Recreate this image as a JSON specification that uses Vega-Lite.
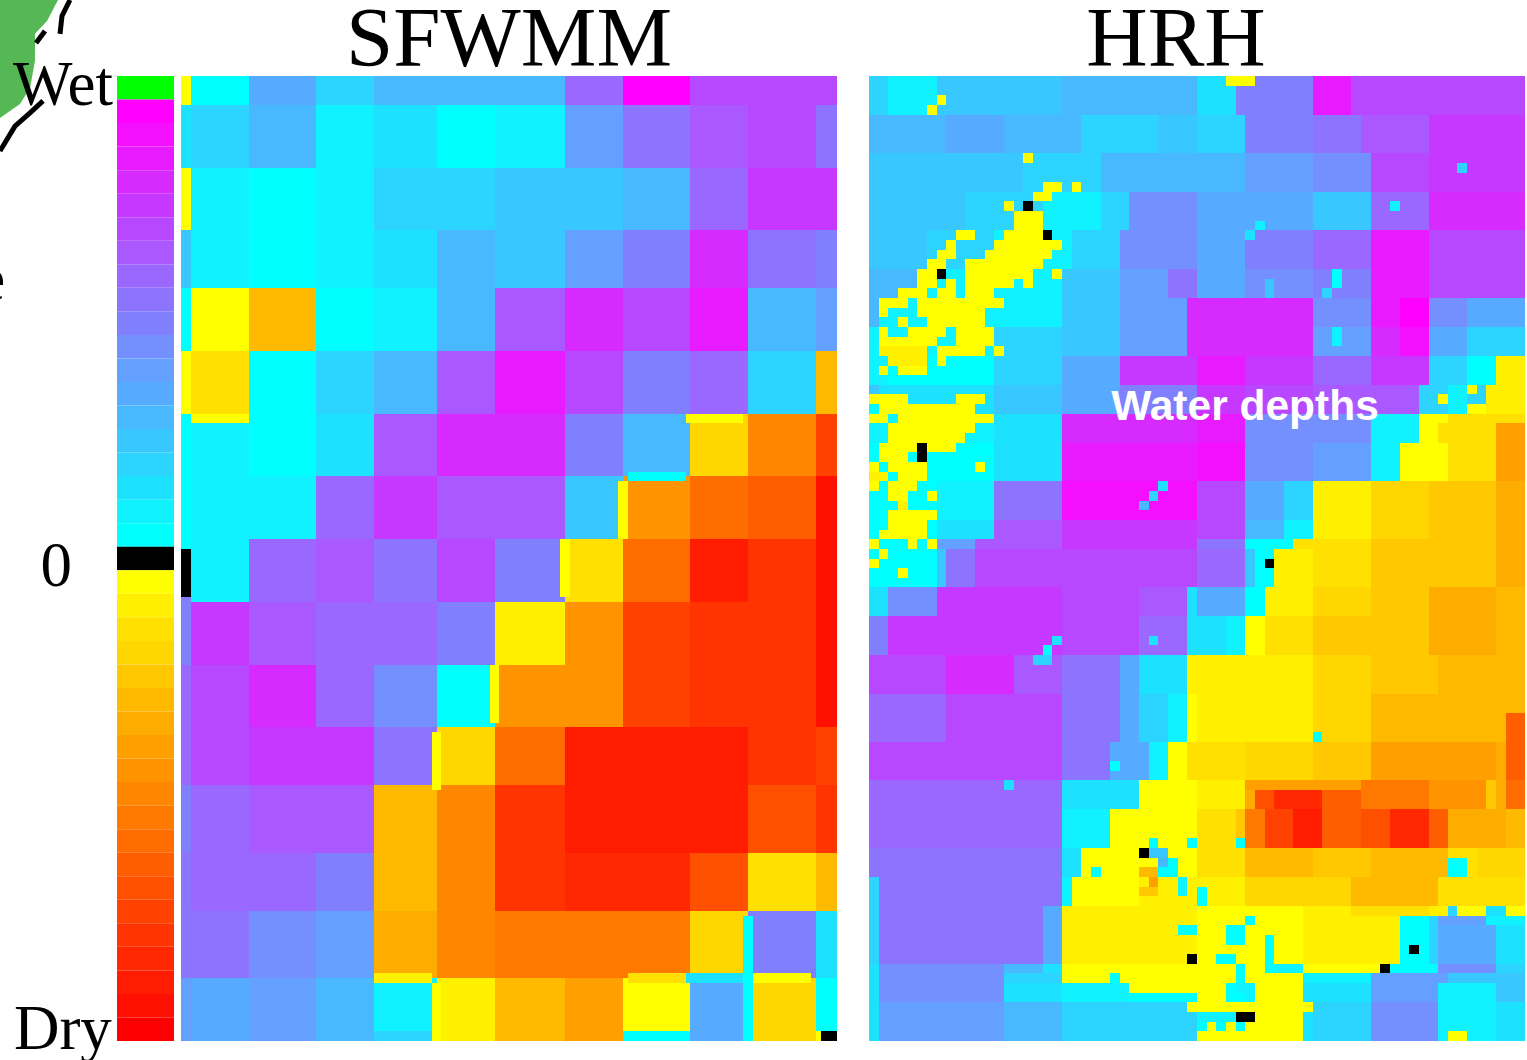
{"$schema":"https://vega.github.io/schema/vega-lite/v6.json","autosize":{"type":"none"},"padding":{"left":117,"top":76,"right":1410,"bottom":984},"background":"white",
"config":{"view":{"stroke":null},"range":{"ordinal":["#FF0000","#FF1000","#FF1C00","#FF2800","#FF3400","#FF4200","#FF5000","#FF5E00","#FF6C00","#FF7800","#FF8600","#FF9400","#FFA000","#FFAC00","#FFBA00","#FFC800","#FFD600","#FFE000","#FFF000","#FFFF00","#000000","#00FFFF","#10F2FF","#1CE2FF","#2CD4FF","#38C8FF","#48B8FF","#56AAFF","#64A0FF","#7490FF","#8080FF","#8C74FF","#9A68FF","#AA58FF","#B848FF","#C638FF","#D62AFF","#E81AFF","#F410FF","#FF00FF","#00FF00"]}},
"spacing":32,
"hconcat":[{"spacing":7,"hconcat":[
{"width":57,"height":965,"layer":[
{"data":{"values":[{"y":-3.23,"x":-2.053,"x2":-1.035},{"y":-2.34,"x":-2.053,"x2":-1.228},{"y":-1.79,"x":-2.053,"x2":-1.439},{"y":-0.64,"x":-2.053,"x2":-1.439},{"y":0.51,"x":-2.053,"x2":-1.526},{"y":1.19,"x":-2.053,"x2":-1.702},{"y":1.79,"x":-2.053,"x2":-2.053}]},"mark":{"type":"area","orient":"horizontal","color":"#55B855"},"encoding":{"y":{"field":"y","type":"quantitative","scale":{"domain":[0,41],"reverse":true,"nice":false,"zero":false},"axis":null},"x":{"field":"x","type":"quantitative","scale":{"domain":[0,1],"nice":false,"zero":false},"axis":null},"x2":{"field":"x2"}}},
{"data":{"values":[{"g":"a","x":-1.298,"y":1.06},{"g":"a","x":-1.526,"y":1.57},{"g":"a","x":-1.79,"y":2.13},{"g":"a","x":-2.053,"y":3.19},{"g":"b","x":-0.825,"y":-3.23},{"g":"b","x":-0.965,"y":-2.55},{"g":"b","x":-1.0,"y":-1.79},{"g":"c","x":-1.263,"y":-1.91},{"g":"c","x":-1.421,"y":-1.4}]},"mark":{"type":"line","color":"#000000","strokeWidth":5},"encoding":{"x":{"field":"x","type":"quantitative"},"y":{"field":"y","type":"quantitative"},"detail":{"field":"g"}}},
{"data":{"values":[{"v":20,"y":0,"y2":1,"a":0,"b":1},{"v":19,"y":1,"y2":2,"a":0,"b":1},{"v":18,"y":2,"y2":3,"a":0,"b":1},{"v":17,"y":3,"y2":4,"a":0,"b":1},{"v":16,"y":4,"y2":5,"a":0,"b":1},{"v":15,"y":5,"y2":6,"a":0,"b":1},{"v":14,"y":6,"y2":7,"a":0,"b":1},{"v":13,"y":7,"y2":8,"a":0,"b":1},{"v":12,"y":8,"y2":9,"a":0,"b":1},{"v":11,"y":9,"y2":10,"a":0,"b":1},{"v":10,"y":10,"y2":11,"a":0,"b":1},{"v":9,"y":11,"y2":12,"a":0,"b":1},{"v":8,"y":12,"y2":13,"a":0,"b":1},{"v":7,"y":13,"y2":14,"a":0,"b":1},{"v":6,"y":14,"y2":15,"a":0,"b":1},{"v":5,"y":15,"y2":16,"a":0,"b":1},{"v":4,"y":16,"y2":17,"a":0,"b":1},{"v":3,"y":17,"y2":18,"a":0,"b":1},{"v":2,"y":18,"y2":19,"a":0,"b":1},{"v":1,"y":19,"y2":20,"a":0,"b":1},{"v":0,"y":20,"y2":21,"a":0,"b":1},{"v":-1,"y":21,"y2":22,"a":0,"b":1},{"v":-2,"y":22,"y2":23,"a":0,"b":1},{"v":-3,"y":23,"y2":24,"a":0,"b":1},{"v":-4,"y":24,"y2":25,"a":0,"b":1},{"v":-5,"y":25,"y2":26,"a":0,"b":1},{"v":-6,"y":26,"y2":27,"a":0,"b":1},{"v":-7,"y":27,"y2":28,"a":0,"b":1},{"v":-8,"y":28,"y2":29,"a":0,"b":1},{"v":-9,"y":29,"y2":30,"a":0,"b":1},{"v":-10,"y":30,"y2":31,"a":0,"b":1},{"v":-11,"y":31,"y2":32,"a":0,"b":1},{"v":-12,"y":32,"y2":33,"a":0,"b":1},{"v":-13,"y":33,"y2":34,"a":0,"b":1},{"v":-14,"y":34,"y2":35,"a":0,"b":1},{"v":-15,"y":35,"y2":36,"a":0,"b":1},{"v":-16,"y":36,"y2":37,"a":0,"b":1},{"v":-17,"y":37,"y2":38,"a":0,"b":1},{"v":-18,"y":38,"y2":39,"a":0,"b":1},{"v":-19,"y":39,"y2":40,"a":0,"b":1},{"v":-20,"y":40,"y2":41,"a":0,"b":1}]},"mark":{"type":"rect"},"encoding":{"x":{"field":"a","type":"quantitative"},"x2":{"field":"b"},"y":{"field":"y","type":"quantitative"},"y2":{"field":"y2"},"color":{"field":"v","type":"ordinal","legend":null,"scale":{"domain":[-20,-19,-18,-17,-16,-15,-14,-13,-12,-11,-10,-9,-8,-7,-6,-5,-4,-3,-2,-1,0,1,2,3,4,5,6,7,8,9,10,11,12,13,14,15,16,17,18,19,20]}}}},
{"data":{"values":[{"t":"Wet","x":-0.07,"y":1.22},{"t":"0","x":-0.79,"y":21.65},{"t":"Dry","x":-0.09,"y":41.35},{"t":"e","x":-1.96,"y":9.52}]},"mark":{"type":"text","align":"right","baseline":"alphabetic","font":"Liberation Serif","fontSize":63,"color":"#000000"},"encoding":{"x":{"field":"x","type":"quantitative"},"y":{"field":"y","type":"quantitative"},"text":{"field":"t"}}}
]},
{"width":656,"height":965,"title":{"text":"SFWMM","font":"Liberation Serif","fontSize":85,"fontWeight":"normal","color":"#000000","offset":-8},
"data":{"values":[
{"x":0,"x2":1,"y":0,"y2":3,"v":-1},{"x":1,"x2":7,"y":0,"y2":3,"v":1},{"x":7,"x2":14,"y":0,"y2":3,"v":7},{"x":14,"x2":20,"y":0,"y2":3,"v":4},{"x":20,"x2":39.8,"y":0,"y2":3,"v":6},{"x":39.8,"x2":45.8,"y":0,"y2":3,"v":12},{"x":45.8,"x2":52.8,"y":0,"y2":3,"v":19},{"x":52.8,"x2":68,"y":0,"y2":3,"v":14},
{"x":0,"x2":1,"y":3,"y2":9.5,"v":3},{"x":1,"x2":7,"y":3,"y2":9.5,"v":4},{"x":7,"x2":14,"y":3,"y2":9.5,"v":6},{"x":14,"x2":20,"y":3,"y2":9.5,"v":2},{"x":20,"x2":26.5,"y":3,"y2":9.5,"v":3},{"x":26.5,"x2":32.5,"y":3,"y2":9.5,"v":1},{"x":32.5,"x2":39.8,"y":3,"y2":9.5,"v":2},{"x":39.8,"x2":45.8,"y":3,"y2":9.5,"v":8},{"x":45.8,"x2":52.8,"y":3,"y2":9.5,"v":11},{"x":52.8,"x2":58.8,"y":3,"y2":9.5,"v":13},{"x":58.8,"x2":65.8,"y":3,"y2":9.5,"v":14},{"x":65.8,"x2":68,"y":3,"y2":9.5,"v":11},
{"x":0,"x2":1,"y":9.5,"y2":16,"v":-1},{"x":1,"x2":7,"y":9.5,"y2":16,"v":2},{"x":7,"x2":14,"y":9.5,"y2":16,"v":1},{"x":14,"x2":20,"y":9.5,"y2":16,"v":2},{"x":20,"x2":32.5,"y":9.5,"y2":16,"v":4},{"x":32.5,"x2":45.8,"y":9.5,"y2":16,"v":5},{"x":45.8,"x2":52.8,"y":9.5,"y2":16,"v":6},{"x":52.8,"x2":58.8,"y":9.5,"y2":16,"v":12},{"x":58.8,"x2":68,"y":9.5,"y2":16,"v":15},
{"x":0,"x2":1,"y":16,"y2":22,"v":5},{"x":1,"x2":7,"y":16,"y2":22,"v":2},{"x":7,"x2":14,"y":16,"y2":22,"v":1},{"x":14,"x2":20,"y":16,"y2":22,"v":2},{"x":20,"x2":26.5,"y":16,"y2":22,"v":3},{"x":26.5,"x2":32.5,"y":16,"y2":22,"v":6},{"x":32.5,"x2":39.8,"y":16,"y2":22,"v":5},{"x":39.8,"x2":45.8,"y":16,"y2":22,"v":8},{"x":45.8,"x2":52.8,"y":16,"y2":22,"v":10},{"x":52.8,"x2":58.8,"y":16,"y2":22,"v":16},{"x":58.8,"x2":65.8,"y":16,"y2":22,"v":11},{"x":65.8,"x2":68,"y":16,"y2":22,"v":10},
{"x":0,"x2":1,"y":22,"y2":28.5,"v":1},{"x":1,"x2":7,"y":22,"y2":28.5,"v":-1},{"x":7,"x2":14,"y":22,"y2":28.5,"v":-6},{"x":14,"x2":20,"y":22,"y2":28.5,"v":1},{"x":20,"x2":26.5,"y":22,"y2":28.5,"v":2},{"x":26.5,"x2":32.5,"y":22,"y2":28.5,"v":6},{"x":32.5,"x2":39.8,"y":22,"y2":28.5,"v":13},{"x":39.8,"x2":45.8,"y":22,"y2":28.5,"v":16},{"x":45.8,"x2":52.8,"y":22,"y2":28.5,"v":14},{"x":52.8,"x2":58.8,"y":22,"y2":28.5,"v":17},{"x":58.8,"x2":65.8,"y":22,"y2":28.5,"v":6},{"x":65.8,"x2":68,"y":22,"y2":28.5,"v":8},
{"x":0,"x2":1,"y":28.5,"y2":35,"v":-1},{"x":1,"x2":7,"y":28.5,"y2":35,"v":-3},{"x":7,"x2":14,"y":28.5,"y2":35,"v":1},{"x":14,"x2":20,"y":28.5,"y2":35,"v":4},{"x":20,"x2":26.5,"y":28.5,"y2":35,"v":6},{"x":26.5,"x2":32.5,"y":28.5,"y2":35,"v":13},{"x":32.5,"x2":39.8,"y":28.5,"y2":35,"v":17},{"x":39.8,"x2":45.8,"y":28.5,"y2":35,"v":14},{"x":45.8,"x2":52.8,"y":28.5,"y2":35,"v":10},{"x":52.8,"x2":58.8,"y":28.5,"y2":35,"v":12},{"x":58.8,"x2":65.8,"y":28.5,"y2":35,"v":4},{"x":65.8,"x2":68,"y":28.5,"y2":35,"v":-6},
{"x":0,"x2":1,"y":35,"y2":41.5,"v":1},{"x":1,"x2":7,"y":35,"y2":41.5,"v":2},{"x":7,"x2":14,"y":35,"y2":41.5,"v":1},{"x":14,"x2":20,"y":35,"y2":41.5,"v":3},{"x":20,"x2":26.5,"y":35,"y2":41.5,"v":13},{"x":26.5,"x2":39.8,"y":35,"y2":41.5,"v":16},{"x":39.8,"x2":45.8,"y":35,"y2":41.5,"v":10},{"x":45.8,"x2":52.8,"y":35,"y2":41.5,"v":6},{"x":52.8,"x2":58.8,"y":35,"y2":41.5,"v":-4},{"x":58.8,"x2":65.8,"y":35,"y2":41.5,"v":-10},{"x":65.8,"x2":68,"y":35,"y2":41.5,"v":-15},
{"x":0,"x2":1,"y":41.5,"y2":49,"v":1},{"x":1,"x2":7,"y":41.5,"y2":48,"v":2},{"x":7,"x2":14,"y":41.5,"y2":48,"v":2},{"x":14,"x2":20,"y":41.5,"y2":48,"v":12},{"x":20,"x2":26.5,"y":41.5,"y2":48,"v":15},{"x":26.5,"x2":39.8,"y":41.5,"y2":48,"v":13},{"x":39.8,"x2":45.8,"y":41.5,"y2":48,"v":5},{"x":45.8,"x2":52.8,"y":41.5,"y2":48,"v":-9},{"x":52.8,"x2":58.8,"y":41.5,"y2":48,"v":-12},{"x":58.8,"x2":65.8,"y":41.5,"y2":48,"v":-13},{"x":65.8,"x2":68,"y":41.5,"y2":48,"v":-19},
{"x":0,"x2":1,"y":49,"y2":54,"v":0},{"x":1,"x2":7,"y":48,"y2":54.5,"v":2},{"x":7,"x2":14,"y":48,"y2":54.5,"v":12},{"x":14,"x2":20,"y":48,"y2":54.5,"v":13},{"x":20,"x2":26.5,"y":48,"y2":54.5,"v":11},{"x":26.5,"x2":32.5,"y":48,"y2":54.5,"v":14},{"x":32.5,"x2":39.8,"y":48,"y2":54.5,"v":10},{"x":39.8,"x2":45.8,"y":48,"y2":54.5,"v":-3},{"x":45.8,"x2":52.8,"y":48,"y2":54.5,"v":-12},{"x":52.8,"x2":58.8,"y":48,"y2":54.5,"v":-18},{"x":58.8,"x2":65.8,"y":48,"y2":54.5,"v":-16},{"x":65.8,"x2":68,"y":48,"y2":54.5,"v":-19},
{"x":0,"x2":1,"y":54,"y2":61,"v":10},{"x":1,"x2":7,"y":54.5,"y2":61,"v":15},{"x":7,"x2":14,"y":54.5,"y2":61,"v":13},{"x":14,"x2":26.5,"y":54.5,"y2":61,"v":12},{"x":26.5,"x2":32.5,"y":54.5,"y2":61,"v":10},{"x":32.5,"x2":39.8,"y":54.5,"y2":61,"v":-2},{"x":39.8,"x2":45.8,"y":54.5,"y2":61,"v":-9},{"x":45.8,"x2":52.8,"y":54.5,"y2":61,"v":-15},{"x":52.8,"x2":65.8,"y":54.5,"y2":61,"v":-16},{"x":65.8,"x2":68,"y":54.5,"y2":61,"v":-19},
{"x":0,"x2":1,"y":61,"y2":67.5,"v":12},{"x":1,"x2":7,"y":61,"y2":67.5,"v":14},{"x":7,"x2":14,"y":61,"y2":67.5,"v":16},{"x":14,"x2":20,"y":61,"y2":67.5,"v":12},{"x":20,"x2":26.5,"y":61,"y2":67.5,"v":9},{"x":26.5,"x2":32.5,"y":61,"y2":67.5,"v":1},{"x":32.5,"x2":45.8,"y":61,"y2":67.5,"v":-9},{"x":45.8,"x2":52.8,"y":61,"y2":67.5,"v":-15},{"x":52.8,"x2":65.8,"y":61,"y2":67.5,"v":-16},{"x":65.8,"x2":68,"y":61,"y2":67.5,"v":-19},
{"x":0,"x2":1,"y":67.5,"y2":73.5,"v":12},{"x":1,"x2":7,"y":67.5,"y2":73.5,"v":14},{"x":7,"x2":20,"y":67.5,"y2":73.5,"v":15},{"x":20,"x2":26.5,"y":67.5,"y2":73.5,"v":11},{"x":26.5,"x2":32.5,"y":67.5,"y2":73.5,"v":-4},{"x":32.5,"x2":39.8,"y":67.5,"y2":73.5,"v":-12},{"x":39.8,"x2":58.8,"y":67.5,"y2":73.5,"v":-18},{"x":58.8,"x2":65.8,"y":67.5,"y2":73.5,"v":-16},{"x":65.8,"x2":68,"y":67.5,"y2":73.5,"v":-15},
{"x":0,"x2":1,"y":73.5,"y2":80.5,"v":10},{"x":1,"x2":7,"y":73.5,"y2":80.5,"v":12},{"x":7,"x2":20,"y":73.5,"y2":80.5,"v":13},{"x":20,"x2":26.5,"y":73.5,"y2":80.5,"v":-6},{"x":26.5,"x2":32.5,"y":73.5,"y2":80.5,"v":-10},{"x":32.5,"x2":39.8,"y":73.5,"y2":80.5,"v":-16},{"x":39.8,"x2":58.8,"y":73.5,"y2":80.5,"v":-18},{"x":58.8,"x2":65.8,"y":73.5,"y2":80.5,"v":-14},{"x":65.8,"x2":68,"y":73.5,"y2":80.5,"v":-16},
{"x":0,"x2":1,"y":80.5,"y2":86.5,"v":11},{"x":1,"x2":14,"y":80.5,"y2":86.5,"v":12},{"x":14,"x2":20,"y":80.5,"y2":86.5,"v":10},{"x":20,"x2":26.5,"y":80.5,"y2":86.5,"v":-6},{"x":26.5,"x2":32.5,"y":80.5,"y2":86.5,"v":-10},{"x":32.5,"x2":39.8,"y":80.5,"y2":86.5,"v":-16},{"x":39.8,"x2":45.8,"y":80.5,"y2":86.5,"v":-17},{"x":45.8,"x2":52.8,"y":80.5,"y2":86.5,"v":-17},{"x":52.8,"x2":58.8,"y":80.5,"y2":86.5,"v":-14},{"x":58.8,"x2":65.8,"y":80.5,"y2":86.5,"v":-3},{"x":65.8,"x2":68,"y":80.5,"y2":86.5,"v":-6},
{"x":0,"x2":7,"y":86.5,"y2":93.5,"v":11},{"x":7,"x2":14,"y":86.5,"y2":93.5,"v":9},{"x":14,"x2":20,"y":86.5,"y2":93.5,"v":8},{"x":20,"x2":26.5,"y":86.5,"y2":93.5,"v":-7},{"x":26.5,"x2":32.5,"y":86.5,"y2":93.5,"v":-10},{"x":32.5,"x2":52.8,"y":86.5,"y2":93.5,"v":-11},{"x":52.8,"x2":58.8,"y":86.5,"y2":93.5,"v":-4},{"x":58.8,"x2":65.8,"y":86.5,"y2":93.5,"v":10},{"x":65.8,"x2":68,"y":86.5,"y2":93.5,"v":3},
{"x":0,"x2":1,"y":93.5,"y2":100,"v":8},{"x":1,"x2":7,"y":93.5,"y2":100,"v":7},{"x":7,"x2":14,"y":93.5,"y2":100,"v":8},{"x":14,"x2":20,"y":93.5,"y2":100,"v":6},{"x":20,"x2":26.5,"y":93.5,"y2":99,"v":2},{"x":26.5,"x2":32.5,"y":93.5,"y2":100,"v":-2},{"x":32.5,"x2":39.8,"y":93.5,"y2":100,"v":-6},{"x":39.8,"x2":45.8,"y":93.5,"y2":100,"v":-8},{"x":45.8,"x2":52.8,"y":93.5,"y2":99,"v":-1},{"x":52.8,"x2":58.8,"y":93.5,"y2":100,"v":7},{"x":58.8,"x2":65.8,"y":93.5,"y2":100,"v":-4},{"x":65.8,"x2":68,"y":93.5,"y2":99,"v":1},
{"x":20,"x2":26.5,"y":99,"y2":100,"v":4},{"x":45.8,"x2":52.8,"y":99,"y2":100,"v":1},{"x":65.8,"x2":67,"y":99,"y2":100,"v":-1},{"x":66.3,"x2":68,"y":99,"y2":100,"v":0},
{"x":52.3,"x2":58.3,"y":35,"y2":36,"v":-1},{"x":46.3,"x2":52.3,"y":41,"y2":42,"v":1},{"x":45.3,"x2":46.3,"y":42,"y2":48,"v":-1},{"x":39.3,"x2":40.3,"y":48,"y2":54,"v":-1},{"x":32,"x2":33,"y":61,"y2":67,"v":-1},{"x":26,"x2":27,"y":68,"y2":74,"v":-1},{"x":26,"x2":27,"y":94,"y2":100,"v":-1},{"x":20,"x2":26,"y":93,"y2":94,"v":-2},{"x":20,"x2":26,"y":94,"y2":99,"v":2},{"x":59.3,"x2":65.3,"y":93,"y2":94,"v":-1},{"x":46.3,"x2":52.3,"y":93,"y2":94,"v":-3},{"x":52.3,"x2":58.3,"y":93,"y2":94,"v":3},{"x":58.3,"x2":59.3,"y":87,"y2":100,"v":1},{"x":1,"x2":7,"y":35,"y2":36,"v":-1}
]},
"mark":{"type":"rect"},"encoding":{"x":{"field":"x","type":"quantitative","scale":{"domain":[0,68],"nice":false,"zero":false,"round":true},"axis":null},"x2":{"field":"x2"},"y":{"field":"y","type":"quantitative","scale":{"domain":[0,100],"reverse":true,"nice":false,"zero":false,"round":true},"axis":null},"y2":{"field":"y2"},"color":{"field":"v","type":"ordinal","legend":null,"scale":{"domain":[-20,-19,-18,-17,-16,-15,-14,-13,-12,-11,-10,-9,-8,-7,-6,-5,-4,-3,-2,-1,0,1,2,3,4,5,6,7,8,9,10,11,12,13,14,15,16,17,18,19,20]}}}}
]},
{"width":656,"height":965,"title":{"text":"HRH","font":"Liberation Serif","fontSize":85,"fontWeight":"normal","color":"#000000","offset":-8,"dx":-21},
"layer":[
{"data":{"values":[
{"x":0,"x2":2,"y":0,"y2":4,"v":4},{"x":2,"x2":7,"y":0,"y2":4,"v":2},{"x":7,"x2":20,"y":0,"y2":4,"v":5},{"x":20,"x2":34,"y":0,"y2":4,"v":6},{"x":34,"x2":38,"y":0,"y2":4,"v":3},{"x":38,"x2":46,"y":0,"y2":4,"v":10},{"x":46,"x2":50,"y":0,"y2":4,"v":17},{"x":50,"x2":68,"y":0,"y2":4,"v":14},
{"x":0,"x2":8,"y":4,"y2":8,"v":6},{"x":8,"x2":14,"y":4,"y2":8,"v":7},{"x":14,"x2":22,"y":4,"y2":8,"v":6},{"x":22,"x2":30,"y":4,"y2":8,"v":4},{"x":30,"x2":34,"y":4,"y2":8,"v":5},{"x":34,"x2":39,"y":4,"y2":8,"v":4},{"x":39,"x2":46,"y":4,"y2":8,"v":10},{"x":46,"x2":51,"y":4,"y2":8,"v":11},{"x":51,"x2":58,"y":4,"y2":8,"v":13},{"x":58,"x2":68,"y":4,"y2":8,"v":15},
{"x":0,"x2":16,"y":8,"y2":12,"v":5},{"x":16,"x2":24,"y":8,"y2":12,"v":4},{"x":24,"x2":39,"y":8,"y2":12,"v":6},{"x":39,"x2":46,"y":8,"y2":12,"v":8},{"x":46,"x2":52,"y":8,"y2":12,"v":9},{"x":52,"x2":58,"y":8,"y2":12,"v":14},{"x":58,"x2":68,"y":8,"y2":12,"v":15},
{"x":0,"x2":10,"y":12,"y2":16,"v":5},{"x":10,"x2":18,"y":12,"y2":16,"v":4},{"x":18,"x2":24,"y":12,"y2":16,"v":2},{"x":24,"x2":27,"y":12,"y2":16,"v":4},{"x":27,"x2":34,"y":12,"y2":16,"v":9},{"x":34,"x2":46,"y":12,"y2":16,"v":7},{"x":46,"x2":52,"y":12,"y2":16,"v":5},{"x":52,"x2":58,"y":12,"y2":16,"v":12},{"x":58,"x2":68,"y":12,"y2":16,"v":16},
{"x":0,"x2":6,"y":16,"y2":20,"v":5},{"x":6,"x2":13,"y":16,"y2":20,"v":4},{"x":13,"x2":21,"y":16,"y2":20,"v":2},{"x":21,"x2":26,"y":16,"y2":20,"v":4},{"x":26,"x2":34,"y":16,"y2":20,"v":9},{"x":34,"x2":39,"y":16,"y2":20,"v":7},{"x":39,"x2":46,"y":16,"y2":20,"v":10},{"x":46,"x2":52,"y":16,"y2":20,"v":12},{"x":52,"x2":58,"y":16,"y2":20,"v":17},{"x":58,"x2":68,"y":16,"y2":20,"v":14},
{"x":0,"x2":5,"y":20,"y2":23,"v":6},{"x":5,"x2":20,"y":20,"y2":23,"v":2},{"x":20,"x2":26,"y":20,"y2":23,"v":5},{"x":26,"x2":31,"y":20,"y2":23,"v":8},{"x":31,"x2":34,"y":20,"y2":23,"v":11},{"x":34,"x2":39,"y":20,"y2":23,"v":7},{"x":39,"x2":46,"y":20,"y2":23,"v":9},{"x":46,"x2":52,"y":20,"y2":23,"v":10},{"x":52,"x2":58,"y":20,"y2":23,"v":17},{"x":58,"x2":68,"y":20,"y2":23,"v":14},
{"x":0,"x2":1,"y":23,"y2":26,"v":6},{"x":1,"x2":20,"y":23,"y2":26,"v":2},{"x":20,"x2":26,"y":23,"y2":26,"v":5},{"x":26,"x2":33,"y":23,"y2":26,"v":8},{"x":33,"x2":46,"y":23,"y2":26,"v":16},{"x":46,"x2":52,"y":23,"y2":26,"v":9},{"x":52,"x2":55,"y":23,"y2":26,"v":17},{"x":55,"x2":58,"y":23,"y2":26,"v":19},{"x":58,"x2":62,"y":23,"y2":26,"v":9},{"x":62,"x2":68,"y":23,"y2":26,"v":7},
{"x":0,"x2":13,"y":26,"y2":29,"v":2},{"x":13,"x2":20,"y":26,"y2":29,"v":4},{"x":20,"x2":26,"y":26,"y2":29,"v":5},{"x":26,"x2":33,"y":26,"y2":29,"v":8},{"x":33,"x2":46,"y":26,"y2":29,"v":16},{"x":46,"x2":52,"y":26,"y2":29,"v":8},{"x":52,"x2":55,"y":26,"y2":29,"v":16},{"x":55,"x2":58,"y":26,"y2":29,"v":18},{"x":58,"x2":62,"y":26,"y2":29,"v":7},{"x":62,"x2":68,"y":26,"y2":29,"v":4},
{"x":0,"x2":2,"y":29,"y2":32,"v":2},{"x":2,"x2":13,"y":29,"y2":32,"v":1},{"x":13,"x2":20,"y":29,"y2":32,"v":4},{"x":20,"x2":26,"y":29,"y2":32,"v":7},{"x":26,"x2":34,"y":29,"y2":32,"v":15},{"x":34,"x2":39,"y":29,"y2":32,"v":17},{"x":39,"x2":46,"y":29,"y2":32,"v":15},{"x":46,"x2":52,"y":29,"y2":32,"v":12},{"x":52,"x2":58,"y":29,"y2":32,"v":15},{"x":58,"x2":62,"y":29,"y2":32,"v":4},{"x":62,"x2":65,"y":29,"y2":32,"v":1},{"x":65,"x2":68,"y":29,"y2":32,"v":-2},
{"x":0,"x2":1,"y":32,"y2":35,"v":5},{"x":1,"x2":13,"y":32,"y2":35,"v":3},{"x":13,"x2":20,"y":32,"y2":35,"v":5},{"x":20,"x2":26,"y":32,"y2":35,"v":7},{"x":26,"x2":34,"y":32,"y2":35,"v":10},{"x":34,"x2":39,"y":32,"y2":35,"v":15},{"x":39,"x2":46,"y":32,"y2":35,"v":14},{"x":46,"x2":57,"y":32,"y2":35,"v":13},{"x":57,"x2":60,"y":32,"y2":35,"v":4},{"x":60,"x2":62,"y":32,"y2":35,"v":2},{"x":62,"x2":64,"y":32,"y2":35,"v":4},{"x":64,"x2":68,"y":32,"y2":35,"v":-2},
{"x":0,"x2":13,"y":35,"y2":38,"v":2},{"x":13,"x2":20,"y":35,"y2":38,"v":3},{"x":20,"x2":34,"y":35,"y2":38,"v":16},{"x":34,"x2":39,"y":35,"y2":38,"v":17},{"x":39,"x2":52,"y":35,"y2":38,"v":9},{"x":52,"x2":57,"y":35,"y2":38,"v":2},{"x":57,"x2":59,"y":35,"y2":38,"v":-1},{"x":59,"x2":65,"y":35,"y2":38,"v":-3},{"x":65,"x2":68,"y":35,"y2":38,"v":-8},
{"x":0,"x2":13,"y":38,"y2":42,"v":1},{"x":13,"x2":20,"y":38,"y2":42,"v":3},{"x":20,"x2":34,"y":38,"y2":42,"v":17},{"x":34,"x2":39,"y":38,"y2":42,"v":18},{"x":39,"x2":46,"y":38,"y2":42,"v":9},{"x":46,"x2":52,"y":38,"y2":42,"v":8},{"x":52,"x2":55,"y":38,"y2":42,"v":2},{"x":55,"x2":60,"y":38,"y2":42,"v":-1},{"x":60,"x2":65,"y":38,"y2":42,"v":-3},{"x":65,"x2":68,"y":38,"y2":42,"v":-8},
{"x":0,"x2":7,"y":42,"y2":46,"v":1},{"x":7,"x2":13,"y":42,"y2":46,"v":2},{"x":13,"x2":20,"y":42,"y2":46,"v":11},{"x":20,"x2":34,"y":42,"y2":46,"v":18},{"x":34,"x2":39,"y":42,"y2":46,"v":14},{"x":39,"x2":43,"y":42,"y2":46,"v":7},{"x":43,"x2":46,"y":42,"y2":46,"v":4},{"x":46,"x2":52,"y":42,"y2":46,"v":-2},{"x":52,"x2":58,"y":42,"y2":46,"v":-4},{"x":58,"x2":65,"y":42,"y2":46,"v":-5},{"x":65,"x2":68,"y":42,"y2":46,"v":-7},
{"x":0,"x2":7,"y":46,"y2":48,"v":1},{"x":7,"x2":13,"y":46,"y2":48,"v":3},{"x":13,"x2":20,"y":46,"y2":48,"v":13},{"x":20,"x2":34,"y":46,"y2":48,"v":15},{"x":34,"x2":39,"y":46,"y2":48,"v":14},{"x":39,"x2":43,"y":46,"y2":48,"v":6},{"x":43,"x2":46,"y":46,"y2":48,"v":2},{"x":46,"x2":52,"y":46,"y2":48,"v":-2},{"x":52,"x2":58,"y":46,"y2":48,"v":-4},{"x":58,"x2":65,"y":46,"y2":48,"v":-5},{"x":65,"x2":68,"y":46,"y2":48,"v":-7},
{"x":0,"x2":7,"y":48,"y2":49,"v":1},{"x":7,"x2":11,"y":48,"y2":49,"v":8},{"x":11,"x2":20,"y":48,"y2":49,"v":13},{"x":20,"x2":34,"y":48,"y2":49,"v":15},{"x":34,"x2":39,"y":48,"y2":49,"v":11},{"x":39,"x2":44,"y":48,"y2":49,"v":1},{"x":44,"x2":52,"y":48,"y2":49,"v":-3},{"x":52,"x2":65,"y":48,"y2":49,"v":-5},{"x":65,"x2":68,"y":48,"y2":49,"v":-7},
{"x":0,"x2":7,"y":49,"y2":53,"v":1},{"x":7,"x2":8,"y":49,"y2":53,"v":5},{"x":8,"x2":11,"y":49,"y2":53,"v":11},{"x":11,"x2":34,"y":49,"y2":53,"v":14},{"x":34,"x2":39,"y":49,"y2":53,"v":12},{"x":39,"x2":40,"y":49,"y2":53,"v":5},{"x":40,"x2":42,"y":49,"y2":53,"v":1},{"x":42,"x2":46,"y":49,"y2":53,"v":-2},{"x":46,"x2":52,"y":49,"y2":53,"v":-3},{"x":52,"x2":65,"y":49,"y2":53,"v":-5},{"x":65,"x2":68,"y":49,"y2":53,"v":-7},
{"x":0,"x2":2,"y":53,"y2":56,"v":3},{"x":2,"x2":7,"y":53,"y2":56,"v":9},{"x":7,"x2":20,"y":53,"y2":56,"v":15},{"x":20,"x2":28,"y":53,"y2":56,"v":14},{"x":28,"x2":33,"y":53,"y2":56,"v":13},{"x":33,"x2":34,"y":53,"y2":56,"v":3},{"x":34,"x2":39,"y":53,"y2":56,"v":7},{"x":39,"x2":41,"y":53,"y2":56,"v":1},{"x":41,"x2":46,"y":53,"y2":56,"v":-2},{"x":46,"x2":52,"y":53,"y2":56,"v":-4},{"x":52,"x2":58,"y":53,"y2":56,"v":-5},{"x":58,"x2":65,"y":53,"y2":56,"v":-7},{"x":65,"x2":68,"y":53,"y2":56,"v":-6},
{"x":0,"x2":2,"y":56,"y2":60,"v":10},{"x":2,"x2":20,"y":56,"y2":60,"v":15},{"x":20,"x2":28,"y":56,"y2":60,"v":14},{"x":28,"x2":33,"y":56,"y2":60,"v":12},{"x":33,"x2":37,"y":56,"y2":60,"v":3},{"x":37,"x2":39,"y":56,"y2":60,"v":2},{"x":39,"x2":41,"y":56,"y2":60,"v":-1},{"x":41,"x2":46,"y":56,"y2":60,"v":-3},{"x":46,"x2":58,"y":56,"y2":60,"v":-5},{"x":58,"x2":65,"y":56,"y2":60,"v":-7},{"x":65,"x2":68,"y":56,"y2":60,"v":-6},
{"x":0,"x2":8,"y":60,"y2":64,"v":14},{"x":8,"x2":15,"y":60,"y2":64,"v":16},{"x":15,"x2":20,"y":60,"y2":64,"v":13},{"x":20,"x2":26,"y":60,"y2":64,"v":11},{"x":26,"x2":28,"y":60,"y2":64,"v":7},{"x":28,"x2":33,"y":60,"y2":64,"v":3},{"x":33,"x2":46,"y":60,"y2":64,"v":-2},{"x":46,"x2":52,"y":60,"y2":64,"v":-4},{"x":52,"x2":59,"y":60,"y2":64,"v":-5},{"x":59,"x2":68,"y":60,"y2":64,"v":-6},
{"x":0,"x2":8,"y":64,"y2":69,"v":12},{"x":8,"x2":20,"y":64,"y2":69,"v":14},{"x":20,"x2":26,"y":64,"y2":69,"v":11},{"x":26,"x2":28,"y":64,"y2":69,"v":7},{"x":28,"x2":31,"y":64,"y2":69,"v":4},{"x":31,"x2":33,"y":64,"y2":69,"v":2},{"x":33,"x2":34,"y":64,"y2":69,"v":-1},{"x":34,"x2":46,"y":64,"y2":69,"v":-2},{"x":46,"x2":52,"y":64,"y2":69,"v":-4},{"x":52,"x2":66,"y":64,"y2":69,"v":-6},{"x":66,"x2":68,"y":64,"y2":66,"v":-6},{"x":66,"x2":68,"y":66,"y2":69,"v":-13},
{"x":0,"x2":20,"y":69,"y2":73,"v":14},{"x":20,"x2":25,"y":69,"y2":73,"v":11},{"x":25,"x2":29,"y":69,"y2":73,"v":7},{"x":29,"x2":31,"y":69,"y2":73,"v":2},{"x":31,"x2":33,"y":69,"y2":73,"v":-1},{"x":33,"x2":39,"y":69,"y2":73,"v":-3},{"x":39,"x2":46,"y":69,"y2":73,"v":-4},{"x":46,"x2":52,"y":69,"y2":73,"v":-5},{"x":52,"x2":65,"y":69,"y2":73,"v":-8},{"x":65,"x2":66,"y":69,"y2":73,"v":-7},{"x":66,"x2":68,"y":69,"y2":73,"v":-13},
{"x":0,"x2":20,"y":73,"y2":76,"v":12},{"x":20,"x2":28,"y":73,"y2":76,"v":3},{"x":28,"x2":34,"y":73,"y2":76,"v":-1},{"x":34,"x2":39,"y":73,"y2":76,"v":-2},{"x":39,"x2":40,"y":73,"y2":76,"v":-7},{"x":40,"x2":42,"y":73,"y2":76,"v":-14},{"x":42,"x2":47,"y":73,"y2":76,"v":-17},{"x":47,"x2":51,"y":73,"y2":76,"v":-13},{"x":51,"x2":58,"y":73,"y2":76,"v":-11},{"x":58,"x2":64,"y":73,"y2":76,"v":-9},{"x":64,"x2":65,"y":73,"y2":76,"v":-5},{"x":65,"x2":66,"y":73,"y2":76,"v":-7},{"x":66,"x2":68,"y":73,"y2":76,"v":-12},
{"x":0,"x2":20,"y":76,"y2":80,"v":12},{"x":20,"x2":25,"y":76,"y2":80,"v":2},{"x":25,"x2":34,"y":76,"y2":80,"v":-1},{"x":34,"x2":38,"y":76,"y2":80,"v":-3},{"x":38,"x2":39,"y":76,"y2":80,"v":-5},{"x":39,"x2":41,"y":76,"y2":80,"v":-11},{"x":41,"x2":44,"y":76,"y2":80,"v":-15},{"x":44,"x2":47,"y":76,"y2":80,"v":-18},{"x":47,"x2":51,"y":76,"y2":80,"v":-13},{"x":51,"x2":54,"y":76,"y2":80,"v":-14},{"x":54,"x2":58,"y":76,"y2":80,"v":-17},{"x":58,"x2":60,"y":76,"y2":80,"v":-13},{"x":60,"x2":66,"y":76,"y2":80,"v":-7},{"x":66,"x2":68,"y":76,"y2":80,"v":-6},
{"x":0,"x2":20,"y":80,"y2":83,"v":11},{"x":20,"x2":22,"y":80,"y2":83,"v":3},{"x":22,"x2":34,"y":80,"y2":83,"v":-1},{"x":34,"x2":39,"y":80,"y2":83,"v":-3},{"x":39,"x2":46,"y":80,"y2":83,"v":-6},{"x":46,"x2":52,"y":80,"y2":83,"v":-5},{"x":52,"x2":60,"y":80,"y2":83,"v":-6},{"x":60,"x2":63,"y":80,"y2":83,"v":-3},{"x":63,"x2":68,"y":80,"y2":83,"v":-4},
{"x":0,"x2":1,"y":83,"y2":86,"v":4},{"x":1,"x2":20,"y":83,"y2":86,"v":11},{"x":20,"x2":21,"y":83,"y2":86,"v":2},{"x":21,"x2":28,"y":83,"y2":86,"v":-1},{"x":28,"x2":34,"y":83,"y2":86,"v":-2},{"x":34,"x2":39,"y":83,"y2":86,"v":-2},{"x":39,"x2":50,"y":83,"y2":86,"v":-4},{"x":50,"x2":59,"y":83,"y2":86,"v":-6},{"x":59,"x2":68,"y":83,"y2":86,"v":-3},
{"x":0,"x2":1,"y":86,"y2":92,"v":4},{"x":1,"x2":18,"y":86,"y2":92,"v":11},{"x":18,"x2":20,"y":86,"y2":92,"v":7},{"x":20,"x2":34,"y":86,"y2":92,"v":-2},{"x":34,"x2":45,"y":86,"y2":92,"v":-1},{"x":45,"x2":55,"y":86,"y2":92,"v":-2},{"x":55,"x2":58,"y":86,"y2":92,"v":1},{"x":58,"x2":59,"y":86,"y2":92,"v":4},{"x":59,"x2":65,"y":86,"y2":92,"v":7},{"x":65,"x2":68,"y":86,"y2":92,"v":3},
{"x":0,"x2":1,"y":92,"y2":93,"v":3},{"x":1,"x2":14,"y":92,"y2":93,"v":9},{"x":14,"x2":18,"y":92,"y2":93,"v":6},{"x":18,"x2":20,"y":92,"y2":93,"v":3},{"x":20,"x2":53,"y":92,"y2":93,"v":-1},{"x":53,"x2":59,"y":92,"y2":93,"v":1},{"x":59,"x2":65,"y":92,"y2":93,"v":9},{"x":65,"x2":68,"y":92,"y2":93,"v":4},
{"x":0,"x2":1,"y":93,"y2":94,"v":3},{"x":1,"x2":14,"y":93,"y2":94,"v":9},{"x":14,"x2":20,"y":93,"y2":94,"v":4},{"x":20,"x2":25,"y":93,"y2":94,"v":-1},{"x":25,"x2":26,"y":93,"y2":94,"v":1},{"x":26,"x2":45,"y":93,"y2":94,"v":-1},{"x":45,"x2":52,"y":93,"y2":94,"v":2},{"x":52,"x2":60,"y":93,"y2":94,"v":8},{"x":60,"x2":68,"y":93,"y2":94,"v":5},
{"x":0,"x2":1,"y":94,"y2":96,"v":3},{"x":1,"x2":14,"y":94,"y2":96,"v":9},{"x":14,"x2":20,"y":94,"y2":96,"v":3},{"x":20,"x2":27,"y":94,"y2":96,"v":2},{"x":27,"x2":34,"y":94,"y2":96,"v":1},{"x":34,"x2":38,"y":94,"y2":96,"v":-1},{"x":38,"x2":40,"y":94,"y2":96,"v":2},{"x":40,"x2":45,"y":94,"y2":96,"v":-1},{"x":45,"x2":52,"y":94,"y2":96,"v":3},{"x":52,"x2":59,"y":94,"y2":96,"v":8},{"x":59,"x2":65,"y":94,"y2":96,"v":2},{"x":65,"x2":68,"y":94,"y2":96,"v":5},
{"x":0,"x2":1,"y":96,"y2":100,"v":3},{"x":1,"x2":14,"y":96,"y2":100,"v":8},{"x":14,"x2":20,"y":96,"y2":100,"v":6},{"x":20,"x2":34,"y":96,"y2":100,"v":4},{"x":34,"x2":46,"y":96,"y2":100,"v":-1},{"x":46,"x2":52,"y":96,"y2":100,"v":4},{"x":52,"x2":59,"y":96,"y2":100,"v":9},{"x":59,"x2":65,"y":96,"y2":100,"v":2},{"x":65,"x2":68,"y":96,"y2":100,"v":3},
{"x":39,"x2":51,"y":73,"y2":74,"v":-8},{"x":27,"x2":34,"y":94,"y2":95,"v":-1},{"x":33,"x2":34,"y":96,"y2":97,"v":-1},
{"x":48,"x2":49,"y":20,"y2":22,"v":1},{"x":61,"x2":62,"y":9,"y2":10,"v":4},{"x":54,"x2":55,"y":13,"y2":14,"v":2},{"x":40,"x2":41,"y":15,"y2":16,"v":2},{"x":39,"x2":40,"y":16,"y2":17,"v":3},{"x":41,"x2":42,"y":21,"y2":23,"v":5},{"x":47,"x2":48,"y":22,"y2":23,"v":4},{"x":48,"x2":49,"y":26,"y2":28,"v":2},{"x":30,"x2":31,"y":42,"y2":43,"v":3},{"x":29,"x2":30,"y":43,"y2":44,"v":4},{"x":28,"x2":29,"y":44,"y2":45,"v":6},{"x":18,"x2":19,"y":59,"y2":60,"v":1},{"x":17,"x2":19,"y":60,"y2":61,"v":4},{"x":19,"x2":20,"y":58,"y2":59,"v":3},{"x":14,"x2":15,"y":73,"y2":74,"v":3},{"x":25,"x2":26,"y":71,"y2":72,"v":1},{"x":29,"x2":30,"y":58,"y2":59,"v":3},
{"x":37,"x2":40,"y":0,"y2":1,"v":-1},{"x":7,"x2":8,"y":2,"y2":3,"v":-1},{"x":6,"x2":7,"y":3,"y2":4,"v":-1},{"x":16,"x2":17,"y":8,"y2":9,"v":-1},
{"x":18,"x2":20,"y":11,"y2":12,"v":-1},{"x":21,"x2":22,"y":11,"y2":12,"v":-1},{"x":17,"x2":19,"y":12,"y2":13,"v":-1},{"x":14,"x2":15,"y":13,"y2":14,"v":-1},{"x":15,"x2":18,"y":14,"y2":16,"v":-1},{"x":9,"x2":11,"y":16,"y2":17,"v":-1},{"x":14,"x2":18,"y":16,"y2":17,"v":-1},{"x":8,"x2":9,"y":17,"y2":18,"v":-1},{"x":13,"x2":20,"y":17,"y2":18,"v":-1},{"x":7,"x2":9,"y":18,"y2":19,"v":-1},{"x":12,"x2":19,"y":18,"y2":19,"v":-1},{"x":6,"x2":8,"y":19,"y2":20,"v":-1},{"x":10,"x2":18,"y":19,"y2":20,"v":-1},{"x":5,"x2":7,"y":20,"y2":22,"v":-1},{"x":10,"x2":17,"y":20,"y2":21,"v":-1},{"x":19,"x2":20,"y":20,"y2":21,"v":-1},{"x":8,"x2":9,"y":21,"y2":22,"v":-1},{"x":10,"x2":15,"y":21,"y2":22,"v":-1},{"x":16,"x2":17,"y":21,"y2":22,"v":-1},{"x":3,"x2":6,"y":22,"y2":23,"v":-1},{"x":7,"x2":9,"y":22,"y2":23,"v":-1},{"x":10,"x2":13,"y":22,"y2":23,"v":-1},{"x":1,"x2":4,"y":23,"y2":24,"v":-1},{"x":5,"x2":14,"y":23,"y2":24,"v":-1},{"x":1,"x2":2,"y":24,"y2":25,"v":-1},{"x":5,"x2":12,"y":24,"y2":25,"v":-1},{"x":3,"x2":4,"y":25,"y2":26,"v":-1},{"x":6,"x2":12,"y":25,"y2":26,"v":-1},{"x":1,"x2":2,"y":26,"y2":27,"v":-1},{"x":4,"x2":8,"y":26,"y2":27,"v":-1},{"x":9,"x2":13,"y":26,"y2":27,"v":-1},{"x":1,"x2":7,"y":27,"y2":28,"v":-1},{"x":9,"x2":13,"y":27,"y2":28,"v":-1},{"x":1,"x2":6,"y":28,"y2":29,"v":-2},{"x":7,"x2":12,"y":28,"y2":29,"v":-1},{"x":13,"x2":14,"y":28,"y2":29,"v":-1},{"x":2,"x2":6,"y":29,"y2":30,"v":-2},{"x":7,"x2":8,"y":29,"y2":30,"v":-1},{"x":1,"x2":2,"y":30,"y2":31,"v":-1},{"x":3,"x2":6,"y":30,"y2":31,"v":-1},
{"x":0,"x2":4,"y":33,"y2":34,"v":-1},{"x":9,"x2":12,"y":33,"y2":34,"v":-1},{"x":0,"x2":1,"y":34,"y2":35,"v":1},{"x":1,"x2":11,"y":34,"y2":35,"v":-1},{"x":0,"x2":2,"y":35,"y2":36,"v":-1},{"x":3,"x2":13,"y":35,"y2":36,"v":-1},{"x":2,"x2":11,"y":36,"y2":37,"v":-1},{"x":2,"x2":10,"y":37,"y2":38,"v":-1},{"x":1,"x2":6,"y":38,"y2":39,"v":-1},{"x":6,"x2":9,"y":38,"y2":39,"v":-1},{"x":1,"x2":4,"y":39,"y2":40,"v":-1},{"x":0,"x2":1,"y":40,"y2":41,"v":-1},{"x":2,"x2":6,"y":40,"y2":41,"v":-1},{"x":11,"x2":12,"y":40,"y2":41,"v":-1},{"x":0,"x2":2,"y":41,"y2":42,"v":-2},{"x":3,"x2":6,"y":41,"y2":42,"v":-1},{"x":0,"x2":1,"y":42,"y2":43,"v":-1},{"x":2,"x2":5,"y":42,"y2":43,"v":-1},{"x":2,"x2":4,"y":43,"y2":44,"v":-1},{"x":6,"x2":7,"y":43,"y2":44,"v":-1},{"x":3,"x2":4,"y":44,"y2":45,"v":-2},{"x":2,"x2":7,"y":45,"y2":46,"v":-1},{"x":2,"x2":6,"y":46,"y2":47,"v":-1},{"x":1,"x2":6,"y":47,"y2":48,"v":-1},{"x":0,"x2":1,"y":48,"y2":49,"v":-1},{"x":4,"x2":5,"y":48,"y2":49,"v":-1},{"x":6,"x2":7,"y":48,"y2":49,"v":-1},{"x":1,"x2":2,"y":49,"y2":50,"v":-1},{"x":0,"x2":1,"y":50,"y2":51,"v":-1},{"x":3,"x2":4,"y":51,"y2":52,"v":-1},
{"x":59,"x2":60,"y":33,"y2":34,"v":-1},{"x":62,"x2":64,"y":34,"y2":35,"v":-1},{"x":58,"x2":60,"y":35,"y2":36,"v":-1},{"x":61,"x2":68,"y":35,"y2":36,"v":-3},{"x":62,"x2":63,"y":32,"y2":33,"v":-1},
{"x":46,"x2":47,"y":68,"y2":69,"v":1},{"x":38,"x2":39,"y":79,"y2":80,"v":1},{"x":60,"x2":62,"y":81,"y2":83,"v":1},{"x":34,"x2":35,"y":84,"y2":86,"v":1},{"x":60,"x2":61,"y":86,"y2":87,"v":4},{"x":61,"x2":64,"y":86,"y2":87,"v":-1},{"x":64,"x2":66,"y":86,"y2":87,"v":3},{"x":66,"x2":68,"y":86,"y2":87,"v":-1},{"x":59,"x2":64,"y":87,"y2":88,"v":8},{"x":64,"x2":68,"y":87,"y2":88,"v":2},{"x":50,"x2":58,"y":86,"y2":87,"v":-3},{"x":58,"x2":60,"y":86,"y2":87,"v":-2},{"x":39,"x2":40,"y":87,"y2":88,"v":1},
{"x":29,"x2":30,"y":79,"y2":80,"v":1},{"x":33,"x2":34,"y":79,"y2":80,"v":1},{"x":29,"x2":31,"y":80,"y2":81,"v":5},{"x":31,"x2":32,"y":81,"y2":82,"v":1},{"x":30,"x2":31,"y":81,"y2":82,"v":6},{"x":23,"x2":24,"y":82,"y2":83,"v":1},{"x":30,"x2":32,"y":82,"y2":83,"v":1},{"x":32,"x2":33,"y":83,"y2":85,"v":2},{"x":32,"x2":34,"y":88,"y2":89,"v":1},{"x":28,"x2":30,"y":82,"y2":83,"v":-6},{"x":29,"x2":30,"y":83,"y2":84,"v":-8},{"x":28,"x2":30,"y":84,"y2":85,"v":-5},
{"x":37,"x2":39,"y":88,"y2":90,"v":1},{"x":36,"x2":38,"y":91,"y2":92,"v":1},{"x":38,"x2":39,"y":92,"y2":94,"v":1},{"x":41,"x2":42,"y":89,"y2":93,"v":1},{"x":42,"x2":45,"y":92,"y2":93,"v":2},{"x":37,"x2":38,"y":94,"y2":95,"v":1},{"x":37,"x2":39,"y":95,"y2":96,"v":1},{"x":34,"x2":38,"y":97,"y2":98,"v":2},{"x":34,"x2":35,"y":98,"y2":99,"v":1},{"x":36,"x2":37,"y":98,"y2":99,"v":1},{"x":38,"x2":39,"y":98,"y2":99,"v":1},{"x":60,"x2":62,"y":99,"y2":100,"v":-1},{"x":45,"x2":46,"y":97,"y2":100,"v":3},
{"x":16,"x2":17,"y":13,"y2":14,"v":0},{"x":18,"x2":19,"y":16,"y2":17,"v":0},{"x":7,"x2":8,"y":20,"y2":21,"v":0},{"x":5,"x2":6,"y":38,"y2":40,"v":0},{"x":41,"x2":42,"y":50,"y2":51,"v":0},{"x":28,"x2":29,"y":80,"y2":81,"v":0},{"x":33,"x2":34,"y":91,"y2":92,"v":0},{"x":56,"x2":57,"y":90,"y2":91,"v":0},{"x":53,"x2":54,"y":92,"y2":93,"v":0},{"x":38,"x2":40,"y":97,"y2":98,"v":0}
]},"mark":{"type":"rect"},"encoding":{"x":{"field":"x","type":"quantitative","scale":{"domain":[0,68],"nice":false,"zero":false,"round":true},"axis":null},"x2":{"field":"x2"},"y":{"field":"y","type":"quantitative","scale":{"domain":[0,100],"reverse":true,"nice":false,"zero":false,"round":true},"axis":null},"y2":{"field":"y2"},"color":{"field":"v","type":"ordinal","legend":null,"scale":{"domain":[-20,-19,-18,-17,-16,-15,-14,-13,-12,-11,-10,-9,-8,-7,-6,-5,-4,-3,-2,-1,0,1,2,3,4,5,6,7,8,9,10,11,12,13,14,15,16,17,18,19,20]}}}},
{"data":{"values":[{"x":39,"y":35.6,"t":"Water depths"}]},"mark":{"type":"text","align":"center","baseline":"alphabetic","font":"Liberation Sans","fontWeight":"bold","fontSize":42.5,"color":"#FFFFFF"},"encoding":{"x":{"field":"x","type":"quantitative"},"y":{"field":"y","type":"quantitative"},"text":{"field":"t"}}}
]}
]}
